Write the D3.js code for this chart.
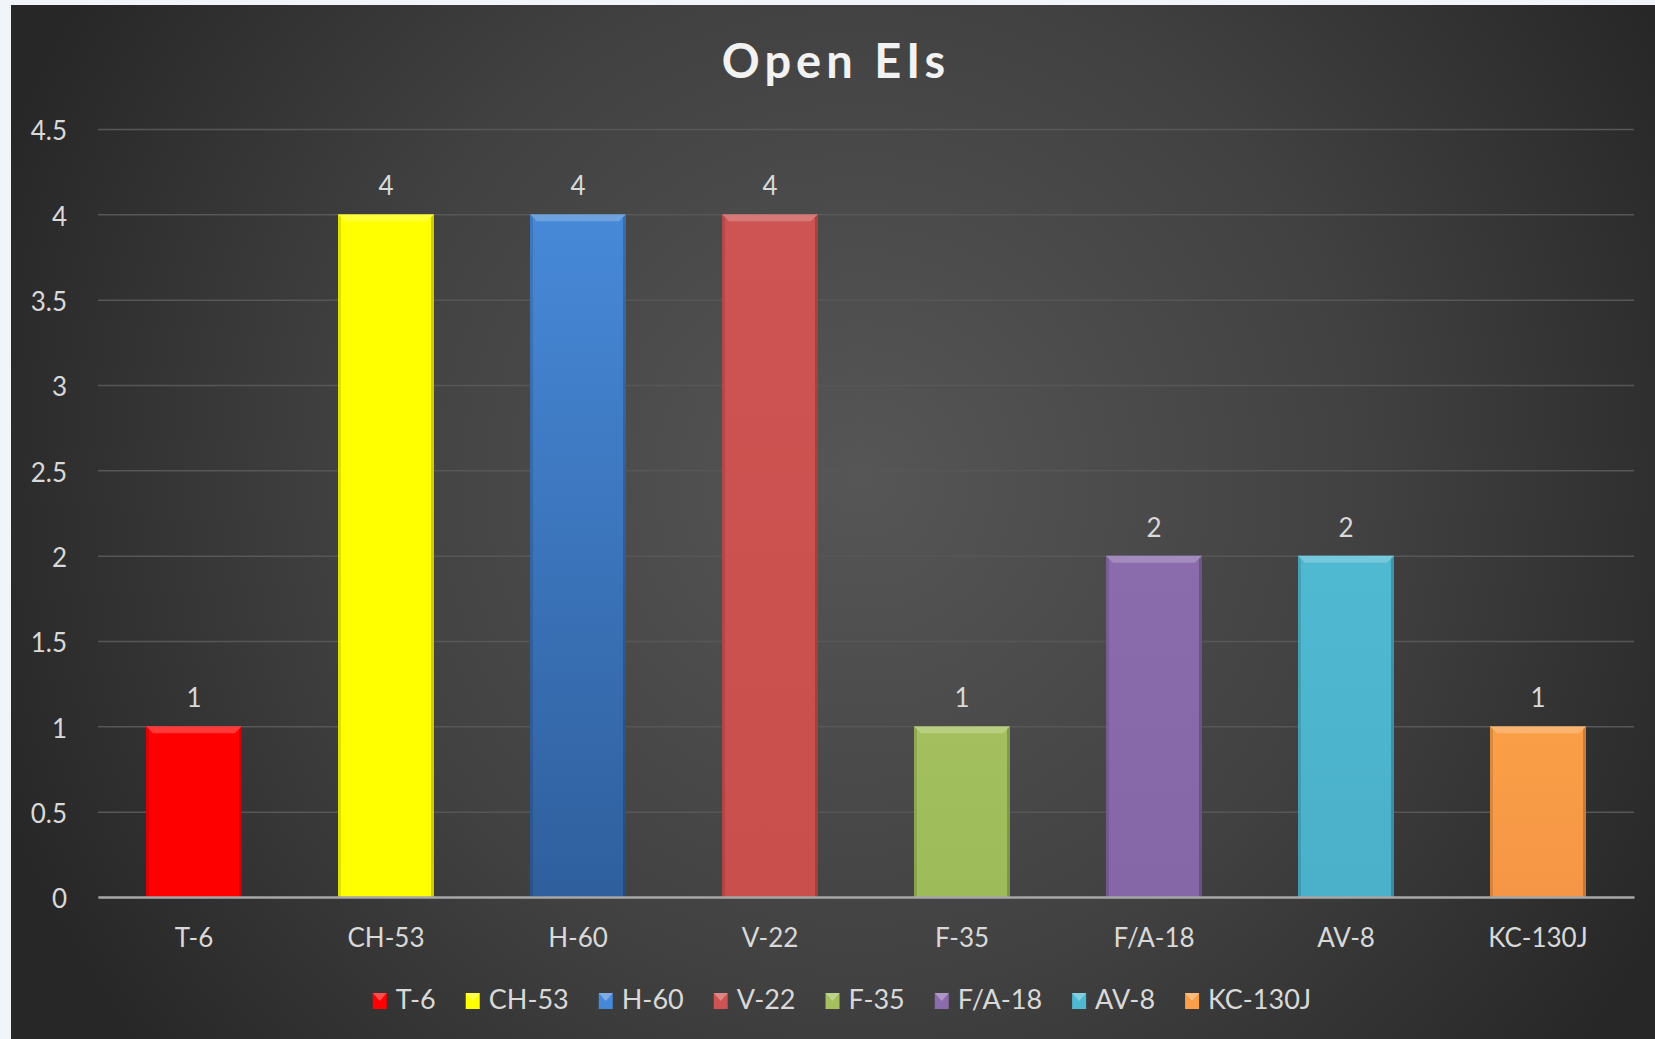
<!DOCTYPE html>
<html>
<head>
<meta charset="utf-8">
<script src="https://cdn.jsdelivr.net/npm/d3@7"></script>
<style>
  body { margin: 0; background: #ffffff; }
  svg { display: block; }
  text { font-family: Lato, "Open Sans", sans-serif; }
</style>
</head>
<body>
<svg id="chart"></svg>
<script>
const categories = ['T-6', 'CH-53', 'H-60', 'V-22', 'F-35', 'F/A-18', 'AV-8', 'KC-130J'];
const values = [1, 4, 4, 4, 1, 2, 2, 1];
const yTicks = [0, 0.5, 1, 1.5, 2, 2.5, 3, 3.5, 4, 4.5];
const colorTop = ['#ff0000', '#ffff00', '#4789d8', '#cd5452', '#a4c05e', '#8a6bac', '#50b9d2', '#fa9f47'];
const colorBottom = ['#ff0000', '#ffff00', '#2f5f9d', '#c94f4d', '#9dbb59', '#8566a6', '#4bb0ca', '#f59646'];

const W = 1655, H = 1039;
const margin = {top: 129, right: 21, bottom: 142, left: 98};

const svg = d3.select('#chart').attr('width', W).attr('height', H);
const defs = svg.append('defs');

// page strip on the left and top, then the dark chart area
svg.append('rect').attr('width', W).attr('height', H).attr('fill', '#f1f4f8');

const bg = defs.append('radialGradient').attr('id', 'bg')
    .attr('gradientUnits', 'userSpaceOnUse')
    .attr('cx', 860).attr('cy', 480).attr('r', 920);
bg.append('stop').attr('offset', '0%').attr('stop-color', '#565656');
bg.append('stop').attr('offset', '55%').attr('stop-color', '#414141');
bg.append('stop').attr('offset', '100%').attr('stop-color', '#272727');

svg.append('rect').attr('x', 11).attr('y', 5)
    .attr('width', W - 11).attr('height', H - 5)
    .attr('fill', 'url(#bg)');

const x = d3.scaleBand()
    .domain(categories)
    .range([margin.left, W - margin.right])
    .paddingInner(0.5)
    .paddingOuter(0.25);

const y = d3.scaleLinear()
    .domain([0, 4.5])
    .range([H - margin.bottom, margin.top]);

// gridlines + y labels
const yAxis = d3.axisLeft(y)
    .tickValues(yTicks)
    .tickSize(-(W - margin.right - margin.left))
    .tickPadding(31)
    .tickFormat(d3.format('~g'));

const yg = svg.append('g')
    .attr('transform', `translate(${margin.left},0)`)
    .call(yAxis);
yg.select('.domain').remove();
yg.selectAll('line').attr('stroke', '#575757').attr('stroke-width', 1.5);
yg.selectAll('text')
    .attr('fill', '#d9d9d9')
    .attr('dy', '0.42em')
    .style('font-size', '26px')
    .style('font-family', 'Lato, sans-serif');

// bars
categories.forEach((c, i) => {
    const g = defs.append('linearGradient').attr('id', 'bar' + i)
        .attr('x1', 0).attr('y1', 0).attr('x2', 0).attr('y2', 1);
    g.append('stop').attr('offset', '0%').attr('stop-color', colorTop[i]);
    g.append('stop').attr('offset', '100%').attr('stop-color', colorBottom[i]);
});

const bars = svg.append('g').selectAll('g.bar')
    .data(categories.map((c, i) => ({c, v: values[i], i})))
    .join('g')
    .attr('class', 'bar');

bars.append('rect')
    .attr('x', d => x(d.c))
    .attr('y', d => y(d.v))
    .attr('width', x.bandwidth())
    .attr('height', d => y(0) - y(d.v))
    .attr('fill', d => `url(#bar${d.i})`);

const bev = 7;
// top highlight bevel
bars.append('path')
    .attr('d', d => {
        const x0 = x(d.c), x1 = x0 + x.bandwidth(), yt = y(d.v);
        return `M${x0},${yt}L${x1},${yt}L${x1 - bev},${yt + bev}L${x0 + bev},${yt + bev}Z`;
    })
    .attr('fill', '#ffffff').attr('fill-opacity', 0.22);
// side shading
bars.append('path')
    .attr('d', d => {
        const x0 = x(d.c), yt = y(d.v), yb = y(0);
        return `M${x0},${yt}L${x0 + 3},${yt + 3}L${x0 + 3},${yb}L${x0},${yb}Z`;
    })
    .attr('fill', '#000000').attr('fill-opacity', 0.12);
bars.append('path')
    .attr('d', d => {
        const x1 = x(d.c) + x.bandwidth(), yt = y(d.v), yb = y(0);
        return `M${x1},${yt}L${x1 - 3},${yt + 3}L${x1 - 3},${yb}L${x1},${yb}Z`;
    })
    .attr('fill', '#000000').attr('fill-opacity', 0.2);

// value labels
bars.append('text')
    .attr('x', d => x(d.c) + x.bandwidth() / 2)
    .attr('y', d => y(d.v) - 19)
    .attr('text-anchor', 'middle')
    .attr('fill', '#d9d9d9')
    .style('font-size', '26px')
    .text(d => d.v);

// x axis
const xAxis = d3.axisBottom(x).tickSize(0).tickPadding(32);
const xg = svg.append('g')
    .attr('transform', `translate(0,${y(0)})`)
    .call(xAxis);
xg.select('.domain').attr('stroke', '#a6a6a6').attr('stroke-width', 2.5);
xg.selectAll('text')
    .attr('fill', '#d9d9d9')
    .style('font-size', '26px')
    .style('font-family', 'Lato, sans-serif');

// title
svg.append('text')
    .attr('x', 836)
    .attr('y', 78)
    .attr('text-anchor', 'middle')
    .attr('fill', '#f2f2f2')
    .style('font-size', '47px')
    .style('font-weight', 'bold')
    .style('letter-spacing', '5px')
    .text('Open EIs');

// legend
const legend = svg.append('g').attr('class', 'legend');
let lx = 0;
categories.forEach((c, i) => {
    const item = legend.append('g').attr('transform', `translate(${lx},0)`);
    item.append('rect')
        .attr('x', 0).attr('y', -15)
        .attr('width', 14).attr('height', 16)
        .attr('fill', colorTop[i]);
    item.append('path')
        .attr('d', 'M0,-15L14,-15L7,-7Z')
        .attr('fill', '#ffffff').attr('fill-opacity', 0.3);
    const t = item.append('text')
        .attr('x', 23).attr('y', 1)
        .attr('fill', '#d9d9d9')
        .style('font-size', '27px')
        .text(c);
    lx += 23 + t.node().getComputedTextLength() + 30;
});
lx -= 30;
legend.attr('transform', `translate(${842 - lx / 2},1008)`);
</script>
</body>
</html>
